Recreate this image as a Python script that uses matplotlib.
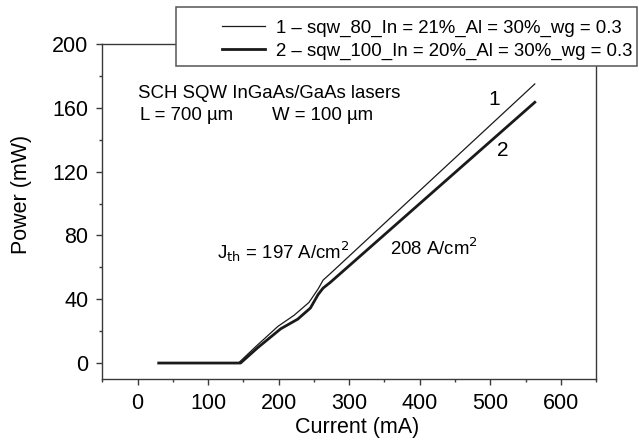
import matplotlib
matplotlib.use("Agg")
import matplotlib.pyplot as plt
from matplotlib.patches import Rectangle
from matplotlib.ticker import MultipleLocator

plt.rcParams["font.family"] = ["Liberation Sans", "DejaVu Sans"]

# L-I curves of the two SQW lasers (current in mA, power in mW)
current_1 = [30, 143, 168, 199, 222, 243, 256, 263, 273, 563]
power_1 = [0, 0, 10.5, 23, 30, 38, 46.5, 52, 56, 175]
current_2 = [30, 146, 170, 203, 227, 245, 256, 263, 273, 563]
power_2 = [0, 0, 9.5, 21.5, 27.5, 34.5, 43, 47, 50.5, 163.5]

labels = [
    "1 \u2013 sqw_80_In = 21%_Al = 30%_wg = 0.3",
    "2 \u2013 sqw_100_In = 20%_Al = 30%_wg = 0.3",
]
x_ticks = [0, 100, 200, 300, 400, 500, 600]
y_ticks = [0, 40, 80, 120, 160, 200]

ink = "#1a1a1a"
frame = "#3a3a3a"

fig = plt.figure(figsize=(6.39, 4.43), dpi=100)
ax = fig.add_axes([0.160, 0.1445, 0.773, 0.756])

l1, = ax.plot(current_1, power_1, color=ink, lw=0.9, solid_joinstyle="round")
l2, = ax.plot(current_2, power_2, color=ink, lw=2.0, solid_joinstyle="round")

ax.set_xlim(-50, 650)
ax.set_ylim(-10, 200)
ax.set_xticks(x_ticks)
ax.set_yticks(y_ticks)
ax.xaxis.set_minor_locator(MultipleLocator(50))
ax.yaxis.set_minor_locator(MultipleLocator(20))
ax.tick_params(which="major", direction="out", length=4, width=1.0,
               color=frame, labelsize=15.5, pad=6)
ax.tick_params(which="minor", direction="out", length=2.5, width=1.0,
               color=frame)
for s in ax.spines.values():
    s.set_color(frame)
    s.set_linewidth(1.0)

ax.set_xlabel("Current (mA)", fontsize=15.5)
ax.set_ylabel("Power (mW)", fontsize=15.5)
ax.xaxis.set_label_coords(0.516, -0.113)
ax.yaxis.set_label_coords(-0.143, 0.55)

# annotations inside the plot
ax.text(0, 169, "SCH SQW InGaAs/GaAs lasers", fontsize=13.4, va="center")
ax.text(3, 155, "L = 700 \u00b5m", fontsize=13.4, va="center")
ax.text(191, 155, "W = 100 \u00b5m", fontsize=13.4, va="center")
ax.text(112, 70, r"J$_{\rm th}$ = 197 A/cm$^2$", fontsize=13.4, va="center")
ax.text(358, 72, r"208 A/cm$^2$", fontsize=13.4, va="center")
ax.text(506, 165, "1", fontsize=15, ha="center", va="center")
ax.text(518, 133, "2", fontsize=15, ha="center", va="center")

# legend box sits over the top-right corner of the axes
box = Rectangle((176 / 639, 1 - 66 / 443), 461 / 639, 59 / 443,
                transform=fig.transFigure, facecolor="white",
                edgecolor="#555555", linewidth=1.1, zorder=3)
fig.add_artist(box)
leg = fig.legend([l1, l2], labels, loc="center left",
                 bbox_to_anchor=(222 / 639, 1 - 39.5 / 443),
                 frameon=False, fontsize=13.4, handlelength=2.3,
                 handletextpad=0.6, labelspacing=0.3, borderpad=0,
                 borderaxespad=0)
leg.set_zorder(4)

fig.savefig("out.png", dpi=100)
